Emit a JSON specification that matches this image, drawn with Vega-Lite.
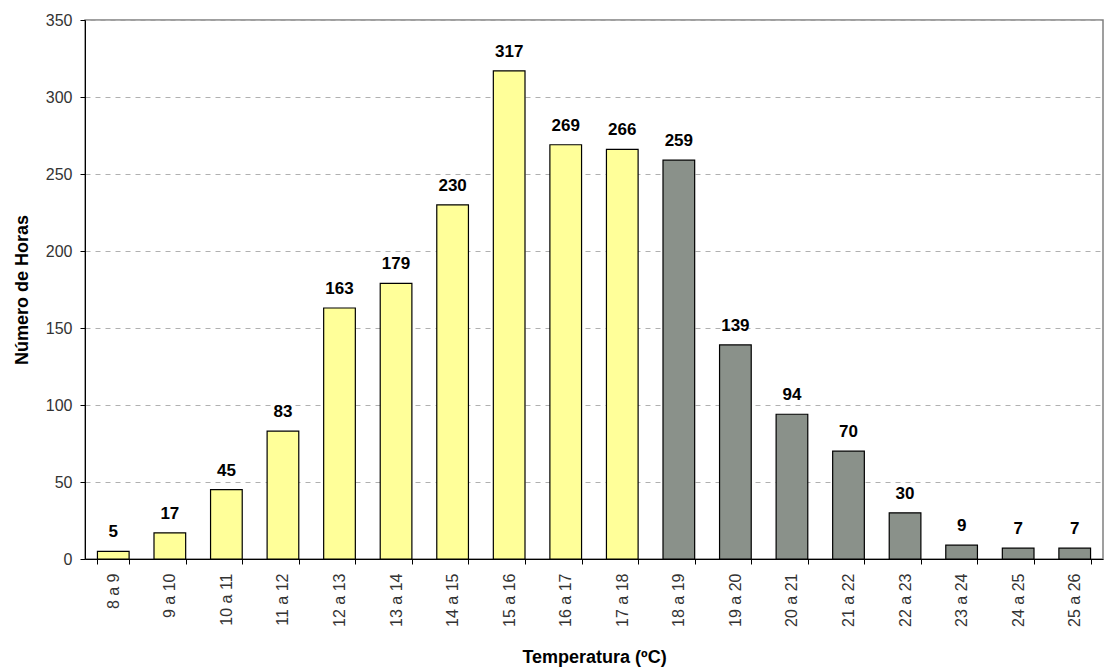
{
  "$schema": "https://vega.github.io/schema/vega-lite/v6.json",
  "autosize": "none",
  "padding": {"left": 85, "top": 20, "right": 1, "bottom": 109},
  "width": 1018,
  "height": 539,
  "config": {
    "font": "Liberation Sans",
    "view": {"stroke": "#808080", "strokeWidth": 1.5},
    "axis": {"labelFont": "Liberation Sans", "titleFont": "Liberation Sans"}
  },
  "data": {
    "values": [
      {"rango": "8 a 9", "horas": 5, "grupo": "A"},
      {"rango": "9 a 10", "horas": 17, "grupo": "A"},
      {"rango": "10 a 11", "horas": 45, "grupo": "A"},
      {"rango": "11 a 12", "horas": 83, "grupo": "A"},
      {"rango": "12 a 13", "horas": 163, "grupo": "A"},
      {"rango": "13  a  14", "horas": 179, "grupo": "A"},
      {"rango": "14 a 15", "horas": 230, "grupo": "A"},
      {"rango": "15 a 16", "horas": 317, "grupo": "A"},
      {"rango": "16 a 17", "horas": 269, "grupo": "A"},
      {"rango": "17 a 18", "horas": 266, "grupo": "A"},
      {"rango": "18 a 19", "horas": 259, "grupo": "B"},
      {"rango": "19 a 20", "horas": 139, "grupo": "B"},
      {"rango": "20 a 21", "horas": 94, "grupo": "B"},
      {"rango": "21 a 22", "horas": 70, "grupo": "B"},
      {"rango": "22 a 23", "horas": 30, "grupo": "B"},
      {"rango": "23 a 24", "horas": 9, "grupo": "B"},
      {"rango": "24 a 25", "horas": 7, "grupo": "B"},
      {"rango": "25 a 26", "horas": 7, "grupo": "B"}
    ]
  },
  "encoding": {
    "x": {
      "field": "rango",
      "type": "nominal",
      "sort": null,
      "scale": {"paddingInner": 0.44, "paddingOuter": 0.22},
      "axis": {
        "title": "Temperatura (ºC)",
        "titleFontSize": 18,
        "titleFontWeight": "bold",
        "titleColor": "#000000",
        "titlePadding": 13,
        "labelAngle": -90,
        "labelFontSize": 16,
        "labelColor": "#333333",
        "labelPadding": 9,
        "tickBand": "extent",
        "tickSize": 5,
        "tickColor": "#000000",
        "domainColor": "#000000",
        "grid": false
      }
    },
    "y": {
      "field": "horas",
      "type": "quantitative",
      "scale": {"domain": [0, 350], "nice": false},
      "axis": {
        "title": "Número de Horas",
        "titleFontSize": 18,
        "titleFontWeight": "bold",
        "titleColor": "#000000",
        "titlePadding": 14,
        "values": [0, 50, 100, 150, 200, 250, 300, 350],
        "labelFontSize": 16,
        "labelColor": "#333333",
        "labelPadding": 8,
        "tickSize": 5,
        "tickColor": "#000000",
        "domainColor": "#000000",
        "grid": true,
        "gridColor": "#b0b0b0",
        "gridDash": [5, 5]
      }
    }
  },
  "layer": [
    {
      "mark": {"type": "bar", "stroke": "#000000", "strokeWidth": 1.2},
      "encoding": {
        "color": {
          "field": "grupo",
          "type": "nominal",
          "scale": {"domain": ["A", "B"], "range": ["#FFFF99", "#8A918A"]},
          "legend": null
        }
      }
    },
    {
      "mark": {"type": "text", "baseline": "alphabetic", "dy": -14, "fontSize": 17, "fontWeight": "bold", "color": "#000000"},
      "encoding": {"text": {"field": "horas", "type": "quantitative"}}
    }
  ]
}
